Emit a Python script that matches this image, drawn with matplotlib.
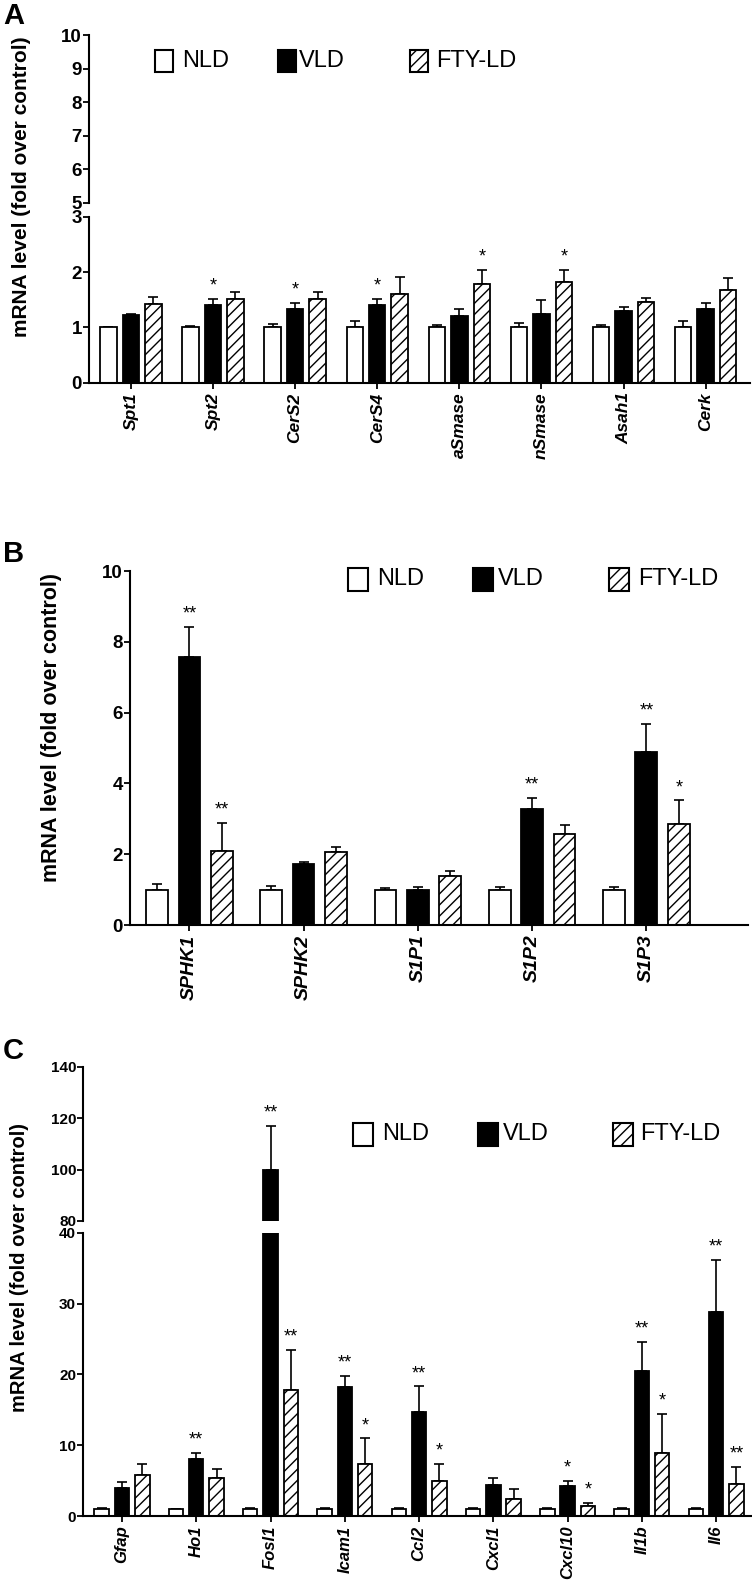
import matplotlib
matplotlib.use("Agg")
import matplotlib.pyplot as plt
import numpy as np
from matplotlib.patches import Rectangle

plt.rcParams["font.family"] = ["Liberation Sans", "DejaVu Sans"]
plt.rcParams["hatch.linewidth"] = 1.0

W, H = 752, 1581

##################################################
# Data
##################################################
series_names = ["NLD", "VLD", "FTY-LD"]

# Panel A: sphingolipid metabolism genes
genes_a = ["Spt1", "Spt2", "CerS2", "CerS4", "aSmase", "nSmase", "Asah1", "Cerk"]
nld_a = [1.0, 1.0, 1.0, 1.0, 1.0, 1.0, 1.0, 1.0]
nld_a_err = [0.01, 0.03, 0.06, 0.11, 0.04, 0.07, 0.04, 0.11]
vld_a = [1.23, 1.40, 1.34, 1.40, 1.20, 1.25, 1.29, 1.33]
vld_a_err = [0.02, 0.12, 0.10, 0.11, 0.14, 0.24, 0.07, 0.11]
fty_a = [1.42, 1.52, 1.51, 1.61, 1.79, 1.82, 1.46, 1.68]
fty_a_err = [0.12, 0.12, 0.13, 0.30, 0.25, 0.22, 0.07, 0.22]
vld_a_sig = ["", "*", "*", "*", "", "", "", ""]
fty_a_sig = ["", "", "", "", "*", "*", "", ""]

# Panel B: S1P axis genes
genes_b = ["SPHK1", "SPHK2", "S1P1", "S1P2", "S1P3"]
nld_b = [1.0, 1.0, 1.0, 1.0, 1.0]
nld_b_err = [0.15, 0.10, 0.05, 0.08, 0.08]
vld_b = [7.57, 1.71, 0.98, 3.27, 4.89]
vld_b_err = [0.85, 0.07, 0.10, 0.32, 0.80]
fty_b = [2.09, 2.07, 1.38, 2.58, 2.85]
fty_b_err = [0.79, 0.12, 0.14, 0.24, 0.67]
vld_b_sig = ["**", "", "", "**", "**"]
fty_b_sig = ["**", "", "", "", "*"]

# Panel C: inflammatory genes
genes_c = ["Gfap", "Ho1", "Fosl1", "Icam1", "Ccl2", "Cxcl1", "Cxcl10", "Il1b", "Il6"]
nld_c = [1.0, 1.0, 1.0, 1.0, 1.0, 1.0, 1.0, 1.0, 1.0]
nld_c_err = [0.2, 0.05, 0.2, 0.1, 0.2, 0.2, 0.2, 0.1, 0.2]
vld_c = [4.0, 8.05, 100.0, 18.26, 14.7, 4.33, 4.28, 20.47, 28.8]
vld_c_err = [0.8, 0.85, 17.0, 1.5, 3.6, 0.97, 0.72, 4.13, 7.4]
fty_c = [5.79, 5.3, 17.8, 7.39, 4.94, 2.35, 1.41, 8.85, 4.56]
fty_c_err = [1.51, 1.3, 5.7, 3.57, 2.36, 1.45, 0.43, 5.55, 2.4]
vld_c_sig = ["", "**", "**", "**", "**", "", "*", "**", "**"]
fty_c_sig = ["", "", "**", "*", "*", "", "*", "*", "**"]

FILLS = ["white", "black", "white"]
HATCHES = [None, None, "///"]
YLABEL = "mRNA level (fold over control)"


##################################################
# Helpers
##################################################

def px_axes(fig, left, top, right, bottom):
    # axes placed by pixel edges (top-left origin)
    return fig.add_axes([left / W, 1 - bottom / H, (right - left) / W, (bottom - top) / H])


def draw_bars(ax, values, errors, width, offset):
    n = len(values[0])
    for k in range(3):
        x = np.arange(n) + (k - 1) * offset
        ax.bar(x, values[k], width, color=FILLS[k], edgecolor="black",
               hatch=HATCHES[k], linewidth=1.3, zorder=2)
        ax.errorbar(x, values[k], yerr=[np.zeros(n), errors[k]], fmt="none",
                    ecolor="black", elinewidth=1.2, capsize=3.5, capthick=1.2, zorder=1)


def draw_stars(axes_by_range, values, errors, sigs, offset, fontsize):
    # axes_by_range: list of (ax, ymin, ymax); star goes in the axes holding its height
    for k, sig in ((1, sigs[0]), (2, sigs[1])):
        for i, txt in enumerate(sig):
            if not txt:
                continue
            top = values[k][i] + errors[k][i]
            for ax, lo, hi in axes_by_range:
                if lo <= top <= hi:
                    ax.annotate(txt, (i + (k - 1) * offset, top), xytext=(0, 6),
                                textcoords="offset points", ha="center", va="baseline",
                                fontsize=fontsize, annotation_clip=False)
                    break


def style_axis(ax, yticks, ylim, xlim, ysize, show_x):
    ax.set_ylim(ylim)
    ax.set_xlim(xlim)
    for s in ["top", "right"]:
        ax.spines[s].set_visible(False)
    ax.spines["left"].set_linewidth(1.5)
    ax.spines["bottom"].set_linewidth(1.5)
    ax.set_yticks(yticks)
    ax.set_yticklabels([str(t) for t in yticks], fontweight="bold", fontsize=ysize)
    ax.tick_params(axis="y", length=4, width=1.3, pad=1)
    if not show_x:
        ax.spines["bottom"].set_visible(False)
        ax.set_xticks([])


def set_genes(ax, genes, size):
    ax.set_xticks(np.arange(len(genes)))
    ax.set_xticklabels(genes, rotation=90, fontstyle="italic", fontweight="bold",
                       fontsize=size, ha="center", va="top")
    ax.tick_params(axis="x", length=4, width=1.3, pad=3)


def draw_legend(fig, box_x, text_x, yc, bw, bh, fontsize):
    for k in range(3):
        fig.add_artist(Rectangle((box_x[k] / W, 1 - (yc + bh / 2) / H), bw / W, bh / H,
                                 transform=fig.transFigure, facecolor=FILLS[k],
                                 edgecolor="black", hatch=HATCHES[k], linewidth=1.5))
        fig.text(text_x[k] / W, 1 - yc / H, series_names[k], fontsize=fontsize,
                 ha="left", va="center")


##################################################
# Figure
##################################################
fig = plt.figure(figsize=(W / 100, H / 100), dpi=100)

# ---- Panel A (broken axis 0-3 / 5-10) ----
vals_a = [nld_a, vld_a, fty_a]
errs_a = [nld_a_err, vld_a_err, fty_a_err]
xlim_a = (-0.51, 7.54)
ax_a_top = px_axes(fig, 89, 35, 750, 202.7)
ax_a_bot = px_axes(fig, 89, 216.7, 750, 382.7)
for ax in (ax_a_top, ax_a_bot):
    draw_bars(ax, vals_a, errs_a, 0.2, 0.274)
style_axis(ax_a_top, [5, 6, 7, 8, 9, 10], (5, 10), xlim_a, 13.5, False)
style_axis(ax_a_bot, [0, 1, 2, 3], (0, 3), xlim_a, 13.5, True)
set_genes(ax_a_bot, genes_a, 12.5)
draw_stars([(ax_a_bot, 0, 3), (ax_a_top, 5, 10)], vals_a, errs_a,
           [vld_a_sig, fty_a_sig], 0.274, 13)
draw_legend(fig, [155, 278, 410], [182, 299, 436], 61, 18, 22, 17)
fig.text(22 / W, 1 - 187 / H, YLABEL, rotation=90, ha="center", va="center",
         fontsize=15, fontweight="bold")
fig.text(3 / W, 1 - 2 / H, "A", fontsize=21, fontweight="bold", ha="left", va="top")

# ---- Panel B ----
vals_b = [nld_b, vld_b, fty_b]
errs_b = [nld_b_err, vld_b_err, fty_b_err]
ax_b = px_axes(fig, 130, 571, 748, 925)
draw_bars(ax_b, vals_b, errs_b, 0.19, 0.284)
style_axis(ax_b, [0, 2, 4, 6, 8, 10], (0, 10), (-0.52, 4.89), 13.5, True)
set_genes(ax_b, genes_b, 14)
draw_stars([(ax_b, 0, 10)], vals_b, errs_b, [vld_b_sig, fty_b_sig], 0.284, 13)
draw_legend(fig, [348, 473, 609], [377, 498, 638], 579, 20, 23, 17)
fig.text(52 / W, 1 - 728 / H, YLABEL, rotation=90, ha="center", va="center",
         fontsize=15.5, fontweight="bold")
fig.text(3 / W, 1 - 540 / H, "B", fontsize=21, fontweight="bold", ha="left", va="top")

# ---- Panel C (broken axis 0-40 / 80-140) ----
vals_c = [nld_c, vld_c, fty_c]
errs_c = [nld_c_err, vld_c_err, fty_c_err]
xlim_c = (-0.525, 8.47)
ax_c_top = px_axes(fig, 83, 1067, 751, 1221)
ax_c_bot = px_axes(fig, 83, 1232.7, 751, 1516)
for ax in (ax_c_top, ax_c_bot):
    draw_bars(ax, vals_c, errs_c, 0.195, 0.273)
style_axis(ax_c_top, [80, 100, 120, 140], (80, 140), xlim_c, 11, False)
style_axis(ax_c_bot, [0, 10, 20, 30, 40], (0, 40), xlim_c, 11, True)
set_genes(ax_c_bot, genes_c, 12)
draw_stars([(ax_c_bot, 0, 40), (ax_c_top, 80, 140)], vals_c, errs_c,
           [vld_c_sig, fty_c_sig], 0.273, 13)
draw_legend(fig, [353, 478, 613], [382, 503, 640], 1134, 20, 23, 17)
fig.text(20 / W, 1 - 1267 / H, YLABEL, rotation=90, ha="center", va="center",
         fontsize=14.5, fontweight="bold")
fig.text(3 / W, 1 - 1037 / H, "C", fontsize=21, fontweight="bold", ha="left", va="top")

fig.savefig("out.png", dpi=100)
